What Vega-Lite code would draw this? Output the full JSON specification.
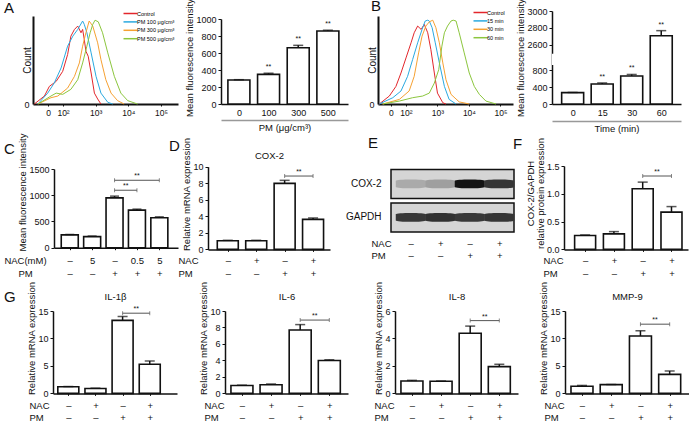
{
  "$schema": "https://vega.github.io/schema/vega-lite/v6.json",
  "background": "white",
  "padding": {"left": 1, "top": -2, "right": 0, "bottom": 0},
  "columns": 5,
  "spacing": 0,
  "bounds": "flush",
  "align": "each",
  "config": {
    "font": "Liberation Sans",
    "view": {"stroke": null},
    "axis": {"labelFont": "Liberation Sans", "titleFont": "Liberation Sans", "labelFontSize": 9, "titleFontSize": 9.5, "titleFontWeight": "normal", "labelColor": "#111", "titleColor": "#111", "domainColor": "#111", "tickColor": "#111", "domainWidth": 1.5, "tickWidth": 1, "tickSize": 3, "grid": false, "labelPadding": 2, "titlePadding": 1, "labelFlush": false, "labelOverlap": false},
    "title": {"font": "Liberation Sans", "fontSize": 15, "fontWeight": "normal", "anchor": "start", "frame": "group", "color": "#111", "offset": 4},
    "legend": {"labelFont": "Liberation Sans"}
  },
  "datasets": {
    "histA": [
      {"s": "Control", "d": 1.12, "c": 0}, {"s": "Control", "d": 1.43, "c": 9.5}, {"s": "Control", "d": 1.58, "c": 21}, {"s": "Control", "d": 1.79, "c": 27}, {"s": "Control", "d": 1.99, "c": 39}, {"s": "Control", "d": 2.14, "c": 59}, {"s": "Control", "d": 2.24, "c": 81}, {"s": "Control", "d": 2.35, "c": 89}, {"s": "Control", "d": 2.45, "c": 93}, {"s": "Control", "d": 2.55, "c": 85}, {"s": "Control", "d": 2.6, "c": 89}, {"s": "Control", "d": 2.65, "c": 77}, {"s": "Control", "d": 2.7, "c": 63}, {"s": "Control", "d": 2.77, "c": 57}, {"s": "Control", "d": 2.86, "c": 37}, {"s": "Control", "d": 2.96, "c": 13}, {"s": "Control", "d": 3.06, "c": 6}, {"s": "Control", "d": 3.16, "c": 0},
      {"s": "PM 100 μg/cm³", "d": 1.23, "c": 0}, {"s": "PM 100 μg/cm³", "d": 1.53, "c": 13}, {"s": "PM 100 μg/cm³", "d": 1.73, "c": 25}, {"s": "PM 100 μg/cm³", "d": 1.94, "c": 43}, {"s": "PM 100 μg/cm³", "d": 2.14, "c": 69}, {"s": "PM 100 μg/cm³", "d": 2.3, "c": 81}, {"s": "PM 100 μg/cm³", "d": 2.45, "c": 89}, {"s": "PM 100 μg/cm³", "d": 2.6, "c": 99}, {"s": "PM 100 μg/cm³", "d": 2.65, "c": 95}, {"s": "PM 100 μg/cm³", "d": 2.73, "c": 85}, {"s": "PM 100 μg/cm³", "d": 2.86, "c": 61}, {"s": "PM 100 μg/cm³", "d": 3.01, "c": 33}, {"s": "PM 100 μg/cm³", "d": 3.16, "c": 13}, {"s": "PM 100 μg/cm³", "d": 3.37, "c": 2}, {"s": "PM 100 μg/cm³", "d": 3.52, "c": 0},
      {"s": "PM 300 μg/cm³", "d": 1.23, "c": 0}, {"s": "PM 300 μg/cm³", "d": 1.63, "c": 7.5}, {"s": "PM 300 μg/cm³", "d": 1.84, "c": 9.5}, {"s": "PM 300 μg/cm³", "d": 2.14, "c": 19}, {"s": "PM 300 μg/cm³", "d": 2.35, "c": 33}, {"s": "PM 300 μg/cm³", "d": 2.5, "c": 49}, {"s": "PM 300 μg/cm³", "d": 2.6, "c": 69}, {"s": "PM 300 μg/cm³", "d": 2.7, "c": 85}, {"s": "PM 300 μg/cm³", "d": 2.8, "c": 99}, {"s": "PM 300 μg/cm³", "d": 2.91, "c": 93}, {"s": "PM 300 μg/cm³", "d": 3.06, "c": 73}, {"s": "PM 300 μg/cm³", "d": 3.16, "c": 53}, {"s": "PM 300 μg/cm³", "d": 3.31, "c": 29}, {"s": "PM 300 μg/cm³", "d": 3.47, "c": 13}, {"s": "PM 300 μg/cm³", "d": 3.67, "c": 4}, {"s": "PM 300 μg/cm³", "d": 3.87, "c": 0},
      {"s": "PM 500 μg/cm³", "d": 1.23, "c": 0}, {"s": "PM 500 μg/cm³", "d": 1.63, "c": 9.5}, {"s": "PM 500 μg/cm³", "d": 1.79, "c": 13}, {"s": "PM 500 μg/cm³", "d": 1.99, "c": 11.5}, {"s": "PM 500 μg/cm³", "d": 2.24, "c": 17.5}, {"s": "PM 500 μg/cm³", "d": 2.45, "c": 29}, {"s": "PM 500 μg/cm³", "d": 2.6, "c": 49}, {"s": "PM 500 μg/cm³", "d": 2.73, "c": 69}, {"s": "PM 500 μg/cm³", "d": 2.83, "c": 85}, {"s": "PM 500 μg/cm³", "d": 2.91, "c": 95}, {"s": "PM 500 μg/cm³", "d": 2.98, "c": 100}, {"s": "PM 500 μg/cm³", "d": 3.08, "c": 98}, {"s": "PM 500 μg/cm³", "d": 3.21, "c": 85}, {"s": "PM 500 μg/cm³", "d": 3.37, "c": 61}, {"s": "PM 500 μg/cm³", "d": 3.57, "c": 33}, {"s": "PM 500 μg/cm³", "d": 3.77, "c": 13}, {"s": "PM 500 μg/cm³", "d": 3.98, "c": 4}, {"s": "PM 500 μg/cm³", "d": 4.28, "c": 0}
    ],
    "histB": [
      {"s": "Control", "d": 1.15, "c": 0}, {"s": "Control", "d": 1.47, "c": 9.5}, {"s": "Control", "d": 1.68, "c": 21}, {"s": "Control", "d": 1.84, "c": 37}, {"s": "Control", "d": 2.0, "c": 55}, {"s": "Control", "d": 2.16, "c": 73}, {"s": "Control", "d": 2.26, "c": 85}, {"s": "Control", "d": 2.37, "c": 93}, {"s": "Control", "d": 2.48, "c": 89}, {"s": "Control", "d": 2.58, "c": 95}, {"s": "Control", "d": 2.69, "c": 85}, {"s": "Control", "d": 2.79, "c": 65}, {"s": "Control", "d": 2.9, "c": 37}, {"s": "Control", "d": 3.0, "c": 13}, {"s": "Control", "d": 3.17, "c": 1.5}, {"s": "Control", "d": 3.27, "c": 0},
      {"s": "15 min", "d": 1.15, "c": 0}, {"s": "15 min", "d": 1.58, "c": 7.5}, {"s": "15 min", "d": 1.84, "c": 15.5}, {"s": "15 min", "d": 2.05, "c": 33}, {"s": "15 min", "d": 2.21, "c": 53}, {"s": "15 min", "d": 2.37, "c": 73}, {"s": "15 min", "d": 2.51, "c": 89}, {"s": "15 min", "d": 2.61, "c": 99}, {"s": "15 min", "d": 2.69, "c": 100}, {"s": "15 min", "d": 2.74, "c": 99}, {"s": "15 min", "d": 2.83, "c": 91}, {"s": "15 min", "d": 2.93, "c": 73}, {"s": "15 min", "d": 3.06, "c": 49}, {"s": "15 min", "d": 3.22, "c": 21}, {"s": "15 min", "d": 3.37, "c": 5.5}, {"s": "15 min", "d": 3.59, "c": 0},
      {"s": "30 min", "d": 1.26, "c": 0}, {"s": "30 min", "d": 1.79, "c": 5.5}, {"s": "30 min", "d": 2.1, "c": 15.5}, {"s": "30 min", "d": 2.26, "c": 33}, {"s": "30 min", "d": 2.4, "c": 61}, {"s": "30 min", "d": 2.51, "c": 81}, {"s": "30 min", "d": 2.63, "c": 93}, {"s": "30 min", "d": 2.74, "c": 98}, {"s": "30 min", "d": 2.85, "c": 100}, {"s": "30 min", "d": 2.95, "c": 91}, {"s": "30 min", "d": 3.06, "c": 73}, {"s": "30 min", "d": 3.17, "c": 49}, {"s": "30 min", "d": 3.27, "c": 29}, {"s": "30 min", "d": 3.43, "c": 11.5}, {"s": "30 min", "d": 3.69, "c": 2.5}, {"s": "30 min", "d": 4.01, "c": 0},
      {"s": "60 min", "d": 1.26, "c": 0}, {"s": "60 min", "d": 1.79, "c": 3.5}, {"s": "60 min", "d": 2.21, "c": 7.5}, {"s": "60 min", "d": 2.53, "c": 9.5}, {"s": "60 min", "d": 2.74, "c": 13}, {"s": "60 min", "d": 2.9, "c": 25}, {"s": "60 min", "d": 3.04, "c": 41}, {"s": "60 min", "d": 3.14, "c": 69}, {"s": "60 min", "d": 3.22, "c": 85}, {"s": "60 min", "d": 3.32, "c": 93}, {"s": "60 min", "d": 3.43, "c": 99}, {"s": "60 min", "d": 3.5, "c": 100}, {"s": "60 min", "d": 3.59, "c": 99}, {"s": "60 min", "d": 3.69, "c": 85}, {"s": "60 min", "d": 3.85, "c": 61}, {"s": "60 min", "d": 4.01, "c": 37}, {"s": "60 min", "d": 4.17, "c": 21}, {"s": "60 min", "d": 4.33, "c": 11.5}, {"s": "60 min", "d": 4.54, "c": 3.5}, {"s": "60 min", "d": 4.86, "c": 0}
    ],
    "barA": [{"g": 1, "v": 282, "hi": 286, "sig": ""}, {"g": 2, "v": 349, "hi": 362, "sig": "**"}, {"g": 3, "v": 662, "hi": 690, "sig": "**"}, {"g": 4, "v": 859, "hi": 868, "sig": "**"}],
    "barB": [{"g": 1, "v": 268, "hi": 272, "sig": ""}, {"g": 2, "v": 470, "hi": 495, "sig": "**"}, {"g": 3, "v": 660, "hi": 695, "sig": "**"}, {"g": 4, "v": 2708, "hi": 2768, "sig": "**"}],
    "C": [{"g": 1, "v": 245, "hi": 252}, {"g": 2, "v": 212, "hi": 222}, {"g": 3, "v": 949, "hi": 983}, {"g": 4, "v": 716, "hi": 735}, {"g": 5, "v": 570, "hi": 588}],
    "brC": [{"a": 3, "b": 4, "m": 3.5, "y": 1095}, {"a": 3, "b": 5, "m": 4, "y": 1285}],
    "D": [{"g": 1, "v": 1.05, "hi": 1.1}, {"g": 2, "v": 1.05, "hi": 1.1}, {"g": 3, "v": 7.98, "hi": 8.35}, {"g": 4, "v": 3.63, "hi": 3.8}],
    "brD": [{"a": 3, "b": 4, "m": 3.5, "y": 8.87}],
    "blots": [{"blot": "COX-2"}, {"blot": "GAPDH"}],
    "bands": [{"blot": "COX-2", "lane": 1, "level": 0.2}, {"blot": "COX-2", "lane": 2, "level": 0.25}, {"blot": "COX-2", "lane": 3, "level": 1}, {"blot": "COX-2", "lane": 4, "level": 0.8}, {"blot": "GAPDH", "lane": 1, "level": 0.78}, {"blot": "GAPDH", "lane": 2, "level": 0.82}, {"blot": "GAPDH", "lane": 3, "level": 0.78}, {"blot": "GAPDH", "lane": 4, "level": 0.8}],
    "F": [{"g": 1, "v": 0.25, "hi": 0.26}, {"g": 2, "v": 0.28, "hi": 0.32}, {"g": 3, "v": 1.09, "hi": 1.21}, {"g": 4, "v": 0.67, "hi": 0.77}],
    "brF": [{"a": 3, "b": 4, "m": 3.5, "y": 1.32}],
    "G1": [{"g": 1, "v": 1.2, "hi": 1.25}, {"g": 2, "v": 0.9, "hi": 0.95}, {"g": 3, "v": 13.3, "hi": 14.0}, {"g": 4, "v": 5.3, "hi": 5.9}],
    "brG1": [{"a": 3, "b": 4, "m": 3.5, "y": 14.6}],
    "G2": [{"g": 1, "v": 0.95, "hi": 1.0}, {"g": 2, "v": 1.05, "hi": 1.15}, {"g": 3, "v": 7.7, "hi": 8.35}, {"g": 4, "v": 4.0, "hi": 4.08}],
    "brG2": [{"a": 3, "b": 4, "m": 3.5, "y": 8.9}],
    "G3": [{"g": 1, "v": 0.9, "hi": 0.95}, {"g": 2, "v": 0.88, "hi": 0.9}, {"g": 3, "v": 4.38, "hi": 4.9}, {"g": 4, "v": 1.95, "hi": 2.12}],
    "brG3": [{"a": 3, "b": 4, "m": 3.5, "y": 5.3}],
    "G4": [{"g": 1, "v": 1.3, "hi": 1.45}, {"g": 2, "v": 1.6, "hi": 1.62}, {"g": 3, "v": 10.45, "hi": 11.4}, {"g": 4, "v": 3.46, "hi": 4.08}],
    "brG4": [{"a": 3, "b": 4, "m": 3.5, "y": 12.6}]
  },
  "concat": [
    {"width": 32, "height": 154.3, "data": {"values": []}, "mark": "point"},
    {
      "width": 175, "height": 93,
      "title": {"text": "A", "dx": -29, "offset": -7},
      "data": {"name": "histA"},
      "mark": {"type": "line", "strokeWidth": 1},
      "encoding": {
        "x": {"field": "d", "type": "quantitative", "scale": {"domain": [1.08, 5.52], "range": [0, 145], "nice": false, "zero": false},
          "axis": {"values": [1.54, 2, 3, 4, 5], "labelExpr": "datum.value < 1.9 ? '0' : '10' + ['²','³','⁴','⁵'][datum.value - 2]", "title": null, "tickSize": 2, "domainWidth": 2, "labelFontSize": 8.5}},
        "y": {"field": "c", "type": "quantitative", "scale": {"domain": [0, 105], "range": [93, 5], "nice": false},
          "axis": {"values": [0], "title": "Count", "titlePadding": -9, "domainWidth": 2, "ticks": false, "labelPadding": 4, "titleFontSize": 10}},
        "color": {"field": "s", "type": "nominal",
          "scale": {"domain": ["Control", "PM 100 μg/cm³", "PM 300 μg/cm³", "PM 500 μg/cm³"], "range": ["#e3262b", "#2aa9e0", "#f6a132", "#8cc63e"]},
          "legend": {"orient": "none", "legendX": 93, "legendY": -2, "title": null, "symbolType": "M-2,0L2,0", "symbolSize": 49, "symbolStrokeWidth": 1.5, "labelFontSize": 5.5, "labelOffset": 2, "rowPadding": 0.4, "padding": 0}}
      }
    },
    {
      "width": 170, "height": 93,
      "layer": [
        {"data": {"name": "barA"}, "mark": {"type": "bar", "width": 22, "fill": "white", "stroke": "#111", "strokeWidth": 1.6},
          "encoding": {
            "x": {"field": "g", "type": "quantitative", "scale": {"domain": [0.565, 4.51], "range": [13, 140], "nice": false, "zero": false},
              "axis": {"values": [1, 2, 3, 4], "labelExpr": "['0','100','300','500'][datum.value-1]", "ticks": false, "labelPadding": 4, "title": null}},
            "y": {"field": "v", "type": "quantitative", "scale": {"domain": [0, 1000], "range": [93, 8], "nice": false},
              "axis": {"values": [0, 200, 400, 600, 800, 1000], "format": "d", "offset": -13, "title": "Mean fluorescence intensity", "titleY": 46.5}}}},
        {"data": {"name": "barA"}, "mark": {"type": "rule", "color": "#111", "strokeWidth": 1.5},
          "encoding": {"x": {"field": "g", "type": "quantitative", "axis": null}, "y": {"field": "v", "type": "quantitative", "axis": null}, "y2": {"field": "hi"}}},
        {"data": {"name": "barA"}, "mark": {"type": "tick", "orient": "horizontal", "size": 10, "thickness": 1.5, "color": "#111"},
          "encoding": {"x": {"field": "g", "type": "quantitative", "axis": null}, "y": {"field": "hi", "type": "quantitative", "axis": null}}},
        {"data": {"name": "barA"}, "mark": {"type": "text", "fontSize": 7, "baseline": "bottom", "dy": -3, "color": "#111"},
          "encoding": {"x": {"field": "g", "type": "quantitative", "axis": {"orient": "bottom", "offset": 16, "domainColor": "#999", "domainWidth": 1.5, "ticks": false, "labels": false, "title": "PM (μg/cm³)", "titlePadding": 2}},
            "y": {"field": "hi", "type": "quantitative", "axis": null}, "text": {"field": "sig"}}}
      ],
      "resolve": {"axis": {"x": "independent", "y": "independent"}}
    },
    {
      "width": 174, "height": 93,
      "title": {"text": "B", "dx": -7, "offset": -5.5},
      "data": {"name": "histB"},
      "mark": {"type": "line", "strokeWidth": 1},
      "encoding": {
        "x": {"field": "d", "type": "quantitative", "scale": {"domain": [1.11, 5.4], "range": [0, 135], "nice": false, "zero": false},
          "axis": {"values": [1.52, 2, 3, 4, 5], "labelExpr": "datum.value < 1.9 ? '0' : '10' + ['²','³','⁴','⁵'][datum.value - 2]", "title": null, "tickSize": 2, "domainWidth": 2, "labelFontSize": 8.5}},
        "y": {"field": "c", "type": "quantitative", "scale": {"domain": [0, 105], "range": [93, 5], "nice": false},
          "axis": {"values": [0], "title": "Count", "titlePadding": -9, "domainWidth": 2, "ticks": false, "labelPadding": 4, "titleFontSize": 10}},
        "color": {"field": "s", "type": "nominal",
          "scale": {"domain": ["Control", "15 min", "30 min", "60 min"], "range": ["#e3262b", "#2aa9e0", "#f6a132", "#8cc63e"]},
          "legend": {"orient": "none", "legendX": 98, "legendY": -3, "title": null, "symbolType": "M-2,0L2,0", "symbolSize": 49, "symbolStrokeWidth": 1.5, "labelFontSize": 5.5, "labelOffset": 2, "rowPadding": 0.4, "padding": 0}}
      }
    },
    {
      "width": 137, "height": 93,
      "layer": [
        {"data": {"name": "barB"}, "mark": {"type": "bar", "width": 22, "fill": "white", "stroke": "#111", "strokeWidth": 1.6},
          "encoding": {
            "x": {"field": "g", "type": "quantitative", "scale": {"domain": [0.47, 4.5], "range": [0, 129], "nice": false, "zero": false},
              "axis": {"values": [1, 2, 3, 4], "labelExpr": "['0','15','30','60'][datum.value-1]", "ticks": false, "labelPadding": 4, "title": null}},
            "y": {"field": "v", "type": "quantitative", "scale": {"domain": [0, 900, 2500, 3000], "range": [93, 54.75, 42.35, 0], "nice": false, "zero": false},
              "axis": {"values": [0, 400, 800, 2600, 2800, 3000], "format": "d", "title": "Mean fluorescence intensity"}}}},
        {"data": {"values": [{}]}, "mark": {"type": "rect", "fill": "white"},
          "encoding": {"x": {"datum": 0.3, "type": "quantitative", "axis": null}, "x2": {"datum": 0.52}, "y": {"datum": 1000, "type": "quantitative", "axis": null}, "y2": {"datum": 2450}}},
        {"data": {"name": "barB"}, "mark": {"type": "rule", "color": "#111", "strokeWidth": 1.5},
          "encoding": {"x": {"field": "g", "type": "quantitative", "axis": null}, "y": {"field": "v", "type": "quantitative", "axis": null}, "y2": {"field": "hi"}}},
        {"data": {"name": "barB"}, "mark": {"type": "tick", "orient": "horizontal", "size": 10, "thickness": 1.5, "color": "#111"},
          "encoding": {"x": {"field": "g", "type": "quantitative", "axis": null}, "y": {"field": "hi", "type": "quantitative", "axis": null}}},
        {"data": {"name": "barB"}, "mark": {"type": "text", "fontSize": 7, "baseline": "bottom", "dy": -3, "color": "#111"},
          "encoding": {"x": {"field": "g", "type": "quantitative", "axis": {"orient": "bottom", "offset": 17, "domainColor": "#999", "domainWidth": 1.5, "ticks": false, "labels": false, "title": "Time (min)", "titlePadding": 2}},
            "y": {"field": "hi", "type": "quantitative", "axis": null}, "text": {"field": "sig"}}}
      ],
      "resolve": {"axis": {"x": "independent", "y": "independent"}}
    },
    {"width": 32, "height": 145, "data": {"values": []}, "mark": "point"},
    {
      "width": 175, "height": 81.7,
      "title": {"text": "C", "dx": -29, "offset": -23.4},
      "layer": [
        {"data": {"name": "C"}, "mark": {"type": "bar", "width": 17, "fill": "white", "stroke": "#111", "strokeWidth": 1.6},
          "encoding": {
            "x": {"field": "g", "type": "quantitative", "scale": {"domain": [0.52, 5.61], "range": [21, 145], "nice": false, "zero": false},
              "axis": {"values": [1, 2, 3, 4, 5], "labelExpr": "[['–','–'],['5','–'],['–','+'],['0.5','+'],['5','+']][datum.value-1]", "tickSize": 2, "labelPadding": 6, "labelFontSize": 9.5, "labelLineHeight": 13,
                "title": ["NAC(mM)", "PM"], "titleX": -8, "titleY": 8, "titleAlign": "center", "titleBaseline": "top", "titleLineHeight": 13, "titleAngle": 0}},
            "y": {"field": "v", "type": "quantitative", "scale": {"domain": [0, 1500], "range": [81.7, 3], "nice": false},
              "axis": {"values": [0, 500, 1000, 1500], "format": "d", "offset": -21, "title": "Mean fluorescence intensity", "titleY": 26}}}},
        {"data": {"name": "C"}, "mark": {"type": "rule", "color": "#111", "strokeWidth": 1.5},
          "encoding": {"x": {"field": "g", "type": "quantitative", "axis": null}, "y": {"field": "v", "type": "quantitative", "axis": null}, "y2": {"field": "hi"}}},
        {"data": {"name": "C"}, "mark": {"type": "tick", "orient": "horizontal", "size": 9, "thickness": 1.5, "color": "#111"},
          "encoding": {"x": {"field": "g", "type": "quantitative", "axis": null}, "y": {"field": "hi", "type": "quantitative", "axis": null}}},
        {"data": {"name": "brC"}, "mark": {"type": "rule", "color": "#555", "strokeWidth": 1},
          "encoding": {"x": {"field": "a", "type": "quantitative", "axis": null}, "x2": {"field": "b"}, "y": {"field": "y", "type": "quantitative", "axis": null}}},
        {"data": {"name": "brC"}, "mark": {"type": "tick", "orient": "vertical", "size": 4, "thickness": 1, "color": "#555"},
          "encoding": {"x": {"field": "a", "type": "quantitative", "axis": null}, "y": {"field": "y", "type": "quantitative", "axis": null}}},
        {"data": {"name": "brC"}, "mark": {"type": "tick", "orient": "vertical", "size": 4, "thickness": 1, "color": "#555"},
          "encoding": {"x": {"field": "b", "type": "quantitative", "axis": null}, "y": {"field": "y", "type": "quantitative", "axis": null}}},
        {"data": {"name": "brC"}, "mark": {"type": "text", "text": "**", "fontSize": 7, "baseline": "bottom", "dy": -1, "color": "#111"},
          "encoding": {"x": {"field": "m", "type": "quantitative", "axis": null}, "y": {"field": "y", "type": "quantitative", "axis": null}}}
      ],
      "resolve": {"axis": {"x": "independent", "y": "independent"}}
    },
    {
      "width": 170, "height": 83.4,
      "title": {"text": "D", "dx": -39, "offset": -16.8},
      "layer": [
        {"data": {"name": "D"}, "mark": {"type": "bar", "width": 21, "fill": "white", "stroke": "#111", "strokeWidth": 1.6},
          "encoding": {
            "x": {"field": "g", "type": "quantitative", "scale": {"domain": [0.48, 4.42], "range": [0, 122], "nice": false, "zero": false},
              "axis": {"values": [1, 2, 3, 4], "labelExpr": "[['–','–'],['+','–'],['–','+'],['+','+']][datum.value-1]", "tickSize": 2, "labelPadding": 4, "labelFontSize": 9.5, "labelLineHeight": 13.5,
                "title": ["NAC", "PM"], "titleX": -30, "titleY": 6, "titleAlign": "left", "titleBaseline": "top", "titleLineHeight": 13.5, "titleAngle": 0}},
            "y": {"field": "v", "type": "quantitative", "scale": {"domain": [0, 10], "range": [83.4, 0.7], "nice": false},
              "axis": {"values": [0, 2, 4, 6, 8, 10], "title": "Relative mRNA expression", "titleY": 28}}}},
        {"data": {"name": "D"}, "mark": {"type": "rule", "color": "#111", "strokeWidth": 1.5},
          "encoding": {"x": {"field": "g", "type": "quantitative", "axis": null}, "y": {"field": "v", "type": "quantitative", "axis": null}, "y2": {"field": "hi"}}},
        {"data": {"name": "D"}, "mark": {"type": "tick", "orient": "horizontal", "size": 10, "thickness": 1.5, "color": "#111"},
          "encoding": {"x": {"field": "g", "type": "quantitative", "axis": null}, "y": {"field": "hi", "type": "quantitative", "axis": null}}},
        {"data": {"name": "brD"}, "mark": {"type": "rule", "color": "#555", "strokeWidth": 1},
          "encoding": {"x": {"field": "a", "type": "quantitative", "axis": {"orient": "top", "domain": false, "ticks": false, "labels": false, "title": "COX-2", "titlePadding": 6}}, "x2": {"field": "b"}, "y": {"field": "y", "type": "quantitative", "axis": null}}},
        {"data": {"name": "brD"}, "mark": {"type": "tick", "orient": "vertical", "size": 4, "thickness": 1, "color": "#555"},
          "encoding": {"x": {"field": "a", "type": "quantitative", "axis": null}, "y": {"field": "y", "type": "quantitative", "axis": null}}},
        {"data": {"name": "brD"}, "mark": {"type": "tick", "orient": "vertical", "size": 4, "thickness": 1, "color": "#555"},
          "encoding": {"x": {"field": "b", "type": "quantitative", "axis": null}, "y": {"field": "y", "type": "quantitative", "axis": null}}},
        {"data": {"name": "brD"}, "mark": {"type": "text", "text": "**", "fontSize": 7, "baseline": "bottom", "dy": -1, "color": "#111"},
          "encoding": {"x": {"field": "m", "type": "quantitative", "axis": null}, "y": {"field": "y", "type": "quantitative", "axis": null}}}
      ],
      "resolve": {"axis": {"x": "independent", "y": "independent"}}
    },
    {
      "width": 136, "height": 66,
      "title": {"text": "E", "dx": -10, "offset": 15},
      "layer": [
        {"data": {"name": "blots"}, "mark": {"type": "rect", "fill": "#d5d5d5", "stroke": "#111", "strokeWidth": 1.5},
          "encoding": {
            "x": {"datum": 0.33, "type": "quantitative"}, "x2": {"datum": 4.5},
            "y": {"field": "blot", "type": "nominal", "scale": {"type": "band", "domain": ["COX-2", "GAPDH"], "range": [3.4, 66], "paddingInner": 0.13, "paddingOuter": 0},
              "axis": {"title": null, "domain": false, "ticks": false, "offset": -13, "labelPadding": 10, "labelFontSize": 10}}}},
        {"data": {"name": "bands"}, "mark": {"type": "point", "shape": "M-1,-0.2C-1,-0.32,1,-0.32,1,-0.2L1,0.2C1,0.32,-1,0.32,-1,0.2Z", "filled": true, "size": 900, "opacity": 1},
          "encoding": {
            "x": {"field": "lane", "type": "quantitative", "scale": {"domain": [0.33, 4.5], "range": [13, 136], "nice": false, "zero": false},
              "axis": {"values": [1, 2, 3, 4], "labelExpr": "[['–','–'],['+','–'],['–','+'],['+','+']][datum.value-1]", "domain": false, "ticks": false, "tickSize": 0, "labelPadding": 6, "labelFontSize": 9.5, "labelLineHeight": 12,
                "title": ["NAC", "PM"], "titleX": -7, "titleY": 6, "titleAlign": "left", "titleBaseline": "top", "titleLineHeight": 12, "titleAngle": 0}},
            "y": {"field": "blot", "type": "nominal", "axis": {"title": null, "domain": false, "ticks": false, "offset": -13, "labelPadding": 10, "labelFontSize": 10}},
            "color": {"field": "level", "type": "quantitative", "scale": {"domain": [0, 1], "range": ["#d5d5d5", "#141414"]}, "legend": null}}}
      ]
    },
    {
      "width": 137, "height": 83.4,
      "title": {"text": "F", "dx": -39, "offset": -14.2},
      "layer": [
        {"data": {"name": "F"}, "mark": {"type": "bar", "width": 21, "fill": "white", "stroke": "#111", "strokeWidth": 1.6},
          "encoding": {
            "x": {"field": "g", "type": "quantitative", "scale": {"domain": [0.44, 4.4], "range": [12, 136], "nice": false, "zero": false},
              "axis": {"values": [1, 2, 3, 4], "labelExpr": "[['–','–'],['+','–'],['–','+'],['+','+']][datum.value-1]", "tickSize": 2, "labelPadding": 4, "labelFontSize": 9.5, "labelLineHeight": 13.5,
                "title": ["NAC", "PM"], "titleX": -9, "titleY": 6, "titleAlign": "left", "titleBaseline": "top", "titleLineHeight": 13.5, "titleAngle": 0}},
            "y": {"field": "v", "type": "quantitative", "scale": {"domain": [0, 1.5], "range": [83.4, 0], "nice": false},
              "axis": {"values": [0, 0.5, 1, 1.5], "format": ".1f", "offset": -12, "title": ["COX-2/GAPDH", "relative protein expression"], "titleLineHeight": 10, "titleY": 27}}}},
        {"data": {"name": "F"}, "mark": {"type": "rule", "color": "#111", "strokeWidth": 1.5},
          "encoding": {"x": {"field": "g", "type": "quantitative", "axis": null}, "y": {"field": "v", "type": "quantitative", "axis": null}, "y2": {"field": "hi"}}},
        {"data": {"name": "F"}, "mark": {"type": "tick", "orient": "horizontal", "size": 10, "thickness": 1.5, "color": "#111"},
          "encoding": {"x": {"field": "g", "type": "quantitative", "axis": null}, "y": {"field": "hi", "type": "quantitative", "axis": null}}},
        {"data": {"name": "brF"}, "mark": {"type": "rule", "color": "#555", "strokeWidth": 1},
          "encoding": {"x": {"field": "a", "type": "quantitative", "axis": null}, "x2": {"field": "b"}, "y": {"field": "y", "type": "quantitative", "axis": null}}},
        {"data": {"name": "brF"}, "mark": {"type": "tick", "orient": "vertical", "size": 4, "thickness": 1, "color": "#555"},
          "encoding": {"x": {"field": "a", "type": "quantitative", "axis": null}, "y": {"field": "y", "type": "quantitative", "axis": null}}},
        {"data": {"name": "brF"}, "mark": {"type": "tick", "orient": "vertical", "size": 4, "thickness": 1, "color": "#555"},
          "encoding": {"x": {"field": "b", "type": "quantitative", "axis": null}, "y": {"field": "y", "type": "quantitative", "axis": null}}},
        {"data": {"name": "brF"}, "mark": {"type": "text", "text": "**", "fontSize": 7, "baseline": "bottom", "dy": -1, "color": "#111"},
          "encoding": {"x": {"field": "m", "type": "quantitative", "axis": null}, "y": {"field": "y", "type": "quantitative", "axis": null}}}
      ],
      "resolve": {"axis": {"x": "independent", "y": "independent"}}
    },
    {"width": 32, "height": 82.4, "data": {"values": []}, "mark": "point"},
    {
      "width": 175, "height": 82.4,
      "title": {"text": "G", "dx": -29, "offset": -24},
      "layer": [
        {"data": {"name": "G1"}, "mark": {"type": "bar", "width": 21, "fill": "white", "stroke": "#111", "strokeWidth": 1.6},
          "encoding": {
            "x": {"field": "g", "type": "quantitative", "scale": {"domain": [0.62, 4.82], "range": [20, 144], "nice": false, "zero": false},
              "axis": {"values": [1, 2, 3, 4], "labelExpr": "[['–','–'],['+','–'],['–','+'],['+','+']][datum.value-1]", "tickSize": 2, "labelPadding": 5, "labelFontSize": 9.5, "labelLineHeight": 12.5,
                "title": ["NAC", "PM"], "titleX": -4, "titleY": 7, "titleAlign": "left", "titleBaseline": "top", "titleLineHeight": 12.5, "titleAngle": 0}},
            "y": {"field": "v", "type": "quantitative", "scale": {"domain": [0, 15], "range": [82.4, 0], "nice": false},
              "axis": {"values": [0, 5, 10, 15], "offset": -20, "title": "Relative mRNA expression", "titleY": 27}}}},
        {"data": {"name": "G1"}, "mark": {"type": "rule", "color": "#111", "strokeWidth": 1.5},
          "encoding": {"x": {"field": "g", "type": "quantitative", "axis": null}, "y": {"field": "v", "type": "quantitative", "axis": null}, "y2": {"field": "hi"}}},
        {"data": {"name": "G1"}, "mark": {"type": "tick", "orient": "horizontal", "size": 10, "thickness": 1.5, "color": "#111"},
          "encoding": {"x": {"field": "g", "type": "quantitative", "axis": null}, "y": {"field": "hi", "type": "quantitative", "axis": null}}},
        {"data": {"name": "brG1"}, "mark": {"type": "rule", "color": "#555", "strokeWidth": 1},
          "encoding": {"x": {"field": "a", "type": "quantitative", "axis": {"orient": "top", "domain": false, "ticks": false, "labels": false, "title": "IL-1β", "titlePadding": 10}}, "x2": {"field": "b"}, "y": {"field": "y", "type": "quantitative", "axis": null}}},
        {"data": {"name": "brG1"}, "mark": {"type": "tick", "orient": "vertical", "size": 4, "thickness": 1, "color": "#555"},
          "encoding": {"x": {"field": "a", "type": "quantitative", "axis": null}, "y": {"field": "y", "type": "quantitative", "axis": null}}},
        {"data": {"name": "brG1"}, "mark": {"type": "tick", "orient": "vertical", "size": 4, "thickness": 1, "color": "#555"},
          "encoding": {"x": {"field": "b", "type": "quantitative", "axis": null}, "y": {"field": "y", "type": "quantitative", "axis": null}}},
        {"data": {"name": "brG1"}, "mark": {"type": "text", "text": "**", "fontSize": 7, "baseline": "bottom", "dy": -1, "color": "#111"},
          "encoding": {"x": {"field": "m", "type": "quantitative", "axis": null}, "y": {"field": "y", "type": "quantitative", "axis": null}}}
      ],
      "resolve": {"axis": {"x": "independent", "y": "independent"}}
    },
    {
      "width": 170, "height": 82.4,
      "layer": [
        {"data": {"name": "G2"}, "mark": {"type": "bar", "width": 22, "fill": "white", "stroke": "#111", "strokeWidth": 1.6},
          "encoding": {
            "x": {"field": "g", "type": "quantitative", "scale": {"domain": [0.59, 4.47], "range": [17, 140], "nice": false, "zero": false},
              "axis": {"values": [1, 2, 3, 4], "labelExpr": "[['–','–'],['+','–'],['–','+'],['+','+']][datum.value-1]", "tickSize": 2, "labelPadding": 5, "labelFontSize": 9.5, "labelLineHeight": 12.5,
                "title": ["NAC", "PM"], "titleX": -4, "titleY": 7, "titleAlign": "left", "titleBaseline": "top", "titleLineHeight": 12.5, "titleAngle": 0}},
            "y": {"field": "v", "type": "quantitative", "scale": {"domain": [0, 10], "range": [82.4, 0], "nice": false},
              "axis": {"values": [0, 2, 4, 6, 8, 10], "offset": -17, "title": "Relative mRNA expression", "titleY": 27}}}},
        {"data": {"name": "G2"}, "mark": {"type": "rule", "color": "#111", "strokeWidth": 1.5},
          "encoding": {"x": {"field": "g", "type": "quantitative", "axis": null}, "y": {"field": "v", "type": "quantitative", "axis": null}, "y2": {"field": "hi"}}},
        {"data": {"name": "G2"}, "mark": {"type": "tick", "orient": "horizontal", "size": 10, "thickness": 1.5, "color": "#111"},
          "encoding": {"x": {"field": "g", "type": "quantitative", "axis": null}, "y": {"field": "hi", "type": "quantitative", "axis": null}}},
        {"data": {"name": "brG2"}, "mark": {"type": "rule", "color": "#555", "strokeWidth": 1},
          "encoding": {"x": {"field": "a", "type": "quantitative", "axis": {"orient": "top", "domain": false, "ticks": false, "labels": false, "title": "IL-6", "titlePadding": 10}}, "x2": {"field": "b"}, "y": {"field": "y", "type": "quantitative", "axis": null}}},
        {"data": {"name": "brG2"}, "mark": {"type": "tick", "orient": "vertical", "size": 4, "thickness": 1, "color": "#555"},
          "encoding": {"x": {"field": "a", "type": "quantitative", "axis": null}, "y": {"field": "y", "type": "quantitative", "axis": null}}},
        {"data": {"name": "brG2"}, "mark": {"type": "tick", "orient": "vertical", "size": 4, "thickness": 1, "color": "#555"},
          "encoding": {"x": {"field": "b", "type": "quantitative", "axis": null}, "y": {"field": "y", "type": "quantitative", "axis": null}}},
        {"data": {"name": "brG2"}, "mark": {"type": "text", "text": "**", "fontSize": 7, "baseline": "bottom", "dy": -1, "color": "#111"},
          "encoding": {"x": {"field": "m", "type": "quantitative", "axis": null}, "y": {"field": "y", "type": "quantitative", "axis": null}}}
      ],
      "resolve": {"axis": {"x": "independent", "y": "independent"}}
    },
    {
      "width": 174, "height": 82.4,
      "layer": [
        {"data": {"name": "G3"}, "mark": {"type": "bar", "width": 22, "fill": "white", "stroke": "#111", "strokeWidth": 1.6},
          "encoding": {
            "x": {"field": "g", "type": "quantitative", "scale": {"domain": [0.59, 4.47], "range": [17, 140], "nice": false, "zero": false},
              "axis": {"values": [1, 2, 3, 4], "labelExpr": "[['–','–'],['+','–'],['–','+'],['+','+']][datum.value-1]", "tickSize": 2, "labelPadding": 5, "labelFontSize": 9.5, "labelLineHeight": 12.5,
                "title": ["NAC", "PM"], "titleX": -4, "titleY": 7, "titleAlign": "left", "titleBaseline": "top", "titleLineHeight": 12.5, "titleAngle": 0}},
            "y": {"field": "v", "type": "quantitative", "scale": {"domain": [0, 6], "range": [82.4, 0], "nice": false},
              "axis": {"values": [0, 2, 4, 6], "offset": -17, "title": "Relative mRNA expression", "titleY": 27}}}},
        {"data": {"name": "G3"}, "mark": {"type": "rule", "color": "#111", "strokeWidth": 1.5},
          "encoding": {"x": {"field": "g", "type": "quantitative", "axis": null}, "y": {"field": "v", "type": "quantitative", "axis": null}, "y2": {"field": "hi"}}},
        {"data": {"name": "G3"}, "mark": {"type": "tick", "orient": "horizontal", "size": 10, "thickness": 1.5, "color": "#111"},
          "encoding": {"x": {"field": "g", "type": "quantitative", "axis": null}, "y": {"field": "hi", "type": "quantitative", "axis": null}}},
        {"data": {"name": "brG3"}, "mark": {"type": "rule", "color": "#555", "strokeWidth": 1},
          "encoding": {"x": {"field": "a", "type": "quantitative", "axis": {"orient": "top", "domain": false, "ticks": false, "labels": false, "title": "IL-8", "titlePadding": 10}}, "x2": {"field": "b"}, "y": {"field": "y", "type": "quantitative", "axis": null}}},
        {"data": {"name": "brG3"}, "mark": {"type": "tick", "orient": "vertical", "size": 4, "thickness": 1, "color": "#555"},
          "encoding": {"x": {"field": "a", "type": "quantitative", "axis": null}, "y": {"field": "y", "type": "quantitative", "axis": null}}},
        {"data": {"name": "brG3"}, "mark": {"type": "tick", "orient": "vertical", "size": 4, "thickness": 1, "color": "#555"},
          "encoding": {"x": {"field": "b", "type": "quantitative", "axis": null}, "y": {"field": "y", "type": "quantitative", "axis": null}}},
        {"data": {"name": "brG3"}, "mark": {"type": "text", "text": "**", "fontSize": 7, "baseline": "bottom", "dy": -1, "color": "#111"},
          "encoding": {"x": {"field": "m", "type": "quantitative", "axis": null}, "y": {"field": "y", "type": "quantitative", "axis": null}}}
      ],
      "resolve": {"axis": {"x": "independent", "y": "independent"}}
    },
    {
      "width": 137, "height": 82.4,
      "layer": [
        {"data": {"name": "G4"}, "mark": {"type": "bar", "width": 22, "fill": "white", "stroke": "#111", "strokeWidth": 1.6},
          "encoding": {
            "x": {"field": "g", "type": "quantitative", "scale": {"domain": [0.59, 4.49], "range": [13, 137], "nice": false, "zero": false},
              "axis": {"values": [1, 2, 3, 4], "labelExpr": "[['–','–'],['+','–'],['–','+'],['+','+']][datum.value-1]", "tickSize": 2, "labelPadding": 5, "labelFontSize": 9.5, "labelLineHeight": 12.5,
                "title": ["NAC", "PM"], "titleX": -8, "titleY": 7, "titleAlign": "left", "titleBaseline": "top", "titleLineHeight": 12.5, "titleAngle": 0}},
            "y": {"field": "v", "type": "quantitative", "scale": {"domain": [0, 15], "range": [82.4, 0], "nice": false},
              "axis": {"values": [0, 5, 10, 15], "offset": -13, "title": "Relative mRNA expression", "titleY": 27}}}},
        {"data": {"name": "G4"}, "mark": {"type": "rule", "color": "#111", "strokeWidth": 1.5},
          "encoding": {"x": {"field": "g", "type": "quantitative", "axis": null}, "y": {"field": "v", "type": "quantitative", "axis": null}, "y2": {"field": "hi"}}},
        {"data": {"name": "G4"}, "mark": {"type": "tick", "orient": "horizontal", "size": 10, "thickness": 1.5, "color": "#111"},
          "encoding": {"x": {"field": "g", "type": "quantitative", "axis": null}, "y": {"field": "hi", "type": "quantitative", "axis": null}}},
        {"data": {"name": "brG4"}, "mark": {"type": "rule", "color": "#555", "strokeWidth": 1},
          "encoding": {"x": {"field": "a", "type": "quantitative", "axis": {"orient": "top", "domain": false, "ticks": false, "labels": false, "title": "MMP-9", "titlePadding": 10}}, "x2": {"field": "b"}, "y": {"field": "y", "type": "quantitative", "axis": null}}},
        {"data": {"name": "brG4"}, "mark": {"type": "tick", "orient": "vertical", "size": 4, "thickness": 1, "color": "#555"},
          "encoding": {"x": {"field": "a", "type": "quantitative", "axis": null}, "y": {"field": "y", "type": "quantitative", "axis": null}}},
        {"data": {"name": "brG4"}, "mark": {"type": "tick", "orient": "vertical", "size": 4, "thickness": 1, "color": "#555"},
          "encoding": {"x": {"field": "b", "type": "quantitative", "axis": null}, "y": {"field": "y", "type": "quantitative", "axis": null}}},
        {"data": {"name": "brG4"}, "mark": {"type": "text", "text": "**", "fontSize": 7, "baseline": "bottom", "dy": -1, "color": "#111"},
          "encoding": {"x": {"field": "m", "type": "quantitative", "axis": null}, "y": {"field": "y", "type": "quantitative", "axis": null}}}
      ],
      "resolve": {"axis": {"x": "independent", "y": "independent"}}
    }
  ]
}
